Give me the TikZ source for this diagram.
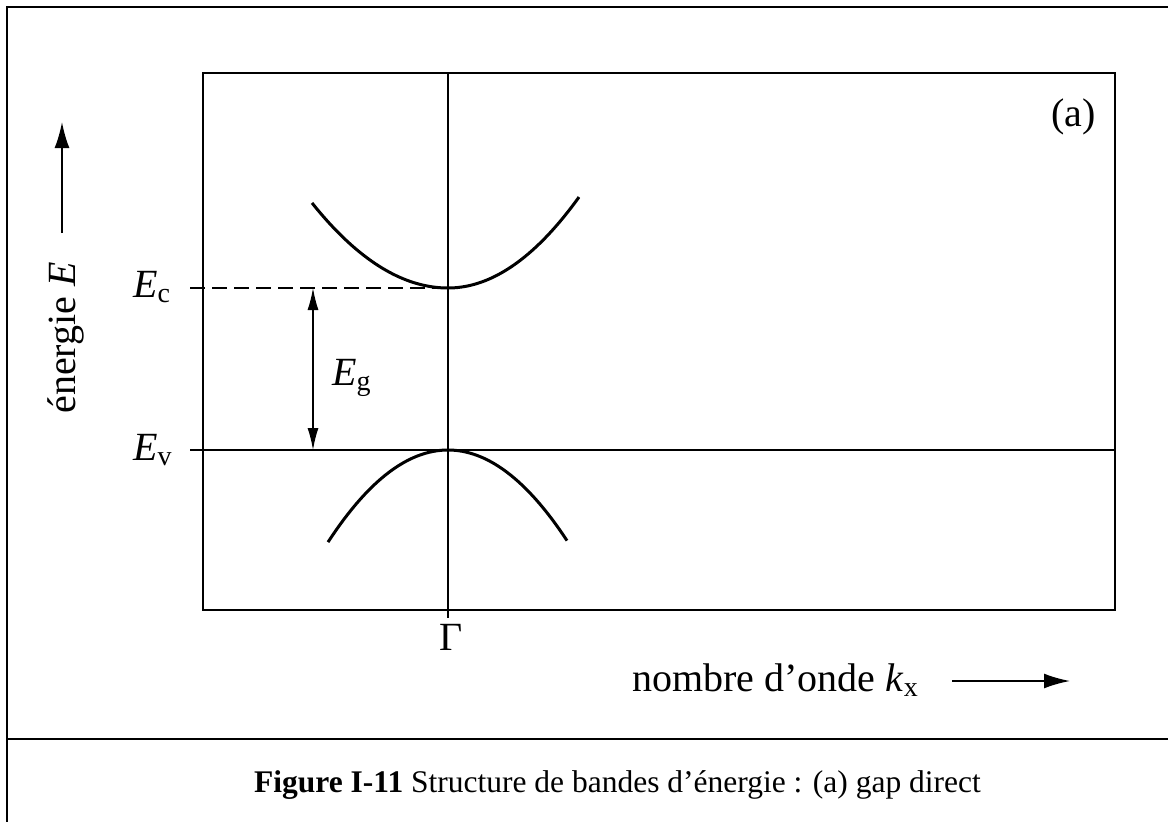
\documentclass[tikz,border=0pt]{standalone}
\usepackage{fontspec}
\setmainfont{Liberation Serif}
\usetikzlibrary{arrows.meta}
\newcommand{\lowsub}[1]{\raisebox{-0.3ex}{\fontsize{28}{28}\selectfont #1}}
\tikzset{
  lab/.style={inner sep=0pt, font=\fontsize{40}{40}\selectfont},
  captext/.style={inner sep=0pt, font=\fontsize{31.5}{31.5}\selectfont},
  frameline/.style={line width=2.6pt},
  boxline/.style={line width=2pt},
  axisline/.style={line width=1.4pt},
  band/.style={line width=3pt},
  dashline/.style={line width=1.6pt, dash pattern=on 15pt off 7pt},
  gaparrow/.style={line width=1.4pt, {Latex[length=22pt,width=11pt]}-{Latex[length=22pt,width=11pt]}},
  dirarrow/.style={line width=2pt, -{Latex[length=26pt,width=15pt]}}
}
\begin{document}
\begin{tikzpicture}[x=1pt,y=-1pt]
\useasboundingbox (0,0) rectangle (1168,822);
% outer frame
\draw[frameline] (7,822) -- (7,7) -- (1168,7);
\draw[frameline] (7,739) -- (1168,739);
% plot box
\draw[boxline] (203,73) rectangle (1115,610);
\draw[axisline] (448,73) -- (448,618);
% levels
\coordinate (ecl) at (190,288);
\coordinate (ecm) at (448,288);
\coordinate (evl) at (190,450);
\coordinate (evr) at (1115,450);
\draw[dashline] (ecl) -- (ecm);
\draw[boxline] (evl) -- (evr);
% bands
\draw[band] plot[domain=312:448, samples=40, smooth] (\x, {288-46*((\x-448)/100)^2});
\draw[band] plot[domain=448:579, samples=40, smooth] (\x, {288-53*((\x-448)/100)^2});
\draw[band] plot[domain=328:567, samples=60, smooth] (\x, {450+64*((\x-448)/100)^2});
% gap arrow
\coordinate (gtop) at (313,288);
\coordinate (gbot) at (313,450);
\draw[gaparrow] (gtop) -- (gbot);
% labels
\node[lab, anchor=base west] (ec) at (133,297) {\textit{E}\lowsub{c}};
\node[lab, anchor=base west] (ev) at (133,460) {\textit{E}\lowsub{v}};
\node[lab, anchor=base west] (eg) at (332,385) {\textit{E}\lowsub{g}};
\node[lab, anchor=base] (gamma) at (451,650) {Γ};
\node[lab, anchor=base west] (a) at (1051,126) {(a)};
% energy axis
\node[lab, anchor=base, rotate=90] (elab) at (75,338) {énergie \textit{E}};
\coordinate (ea0) at (62,233);
\coordinate (ea1) at (62,122);
\draw[dirarrow] (ea0) -- (ea1);
% k axis
\node[lab, anchor=base west] (klab) at (632,691) {nombre d’onde \textit{k}\lowsub{x}};
\coordinate (ka0) at (952,681);
\coordinate (ka1) at (1070,681);
\draw[dirarrow] (ka0) -- (ka1);
% caption
\node[captext, anchor=base west] (caption) at (254,792) {\textbf{Figure I-11} Structure de bandes d’énergie : (a) gap direct};
\end{tikzpicture}
\end{document}
